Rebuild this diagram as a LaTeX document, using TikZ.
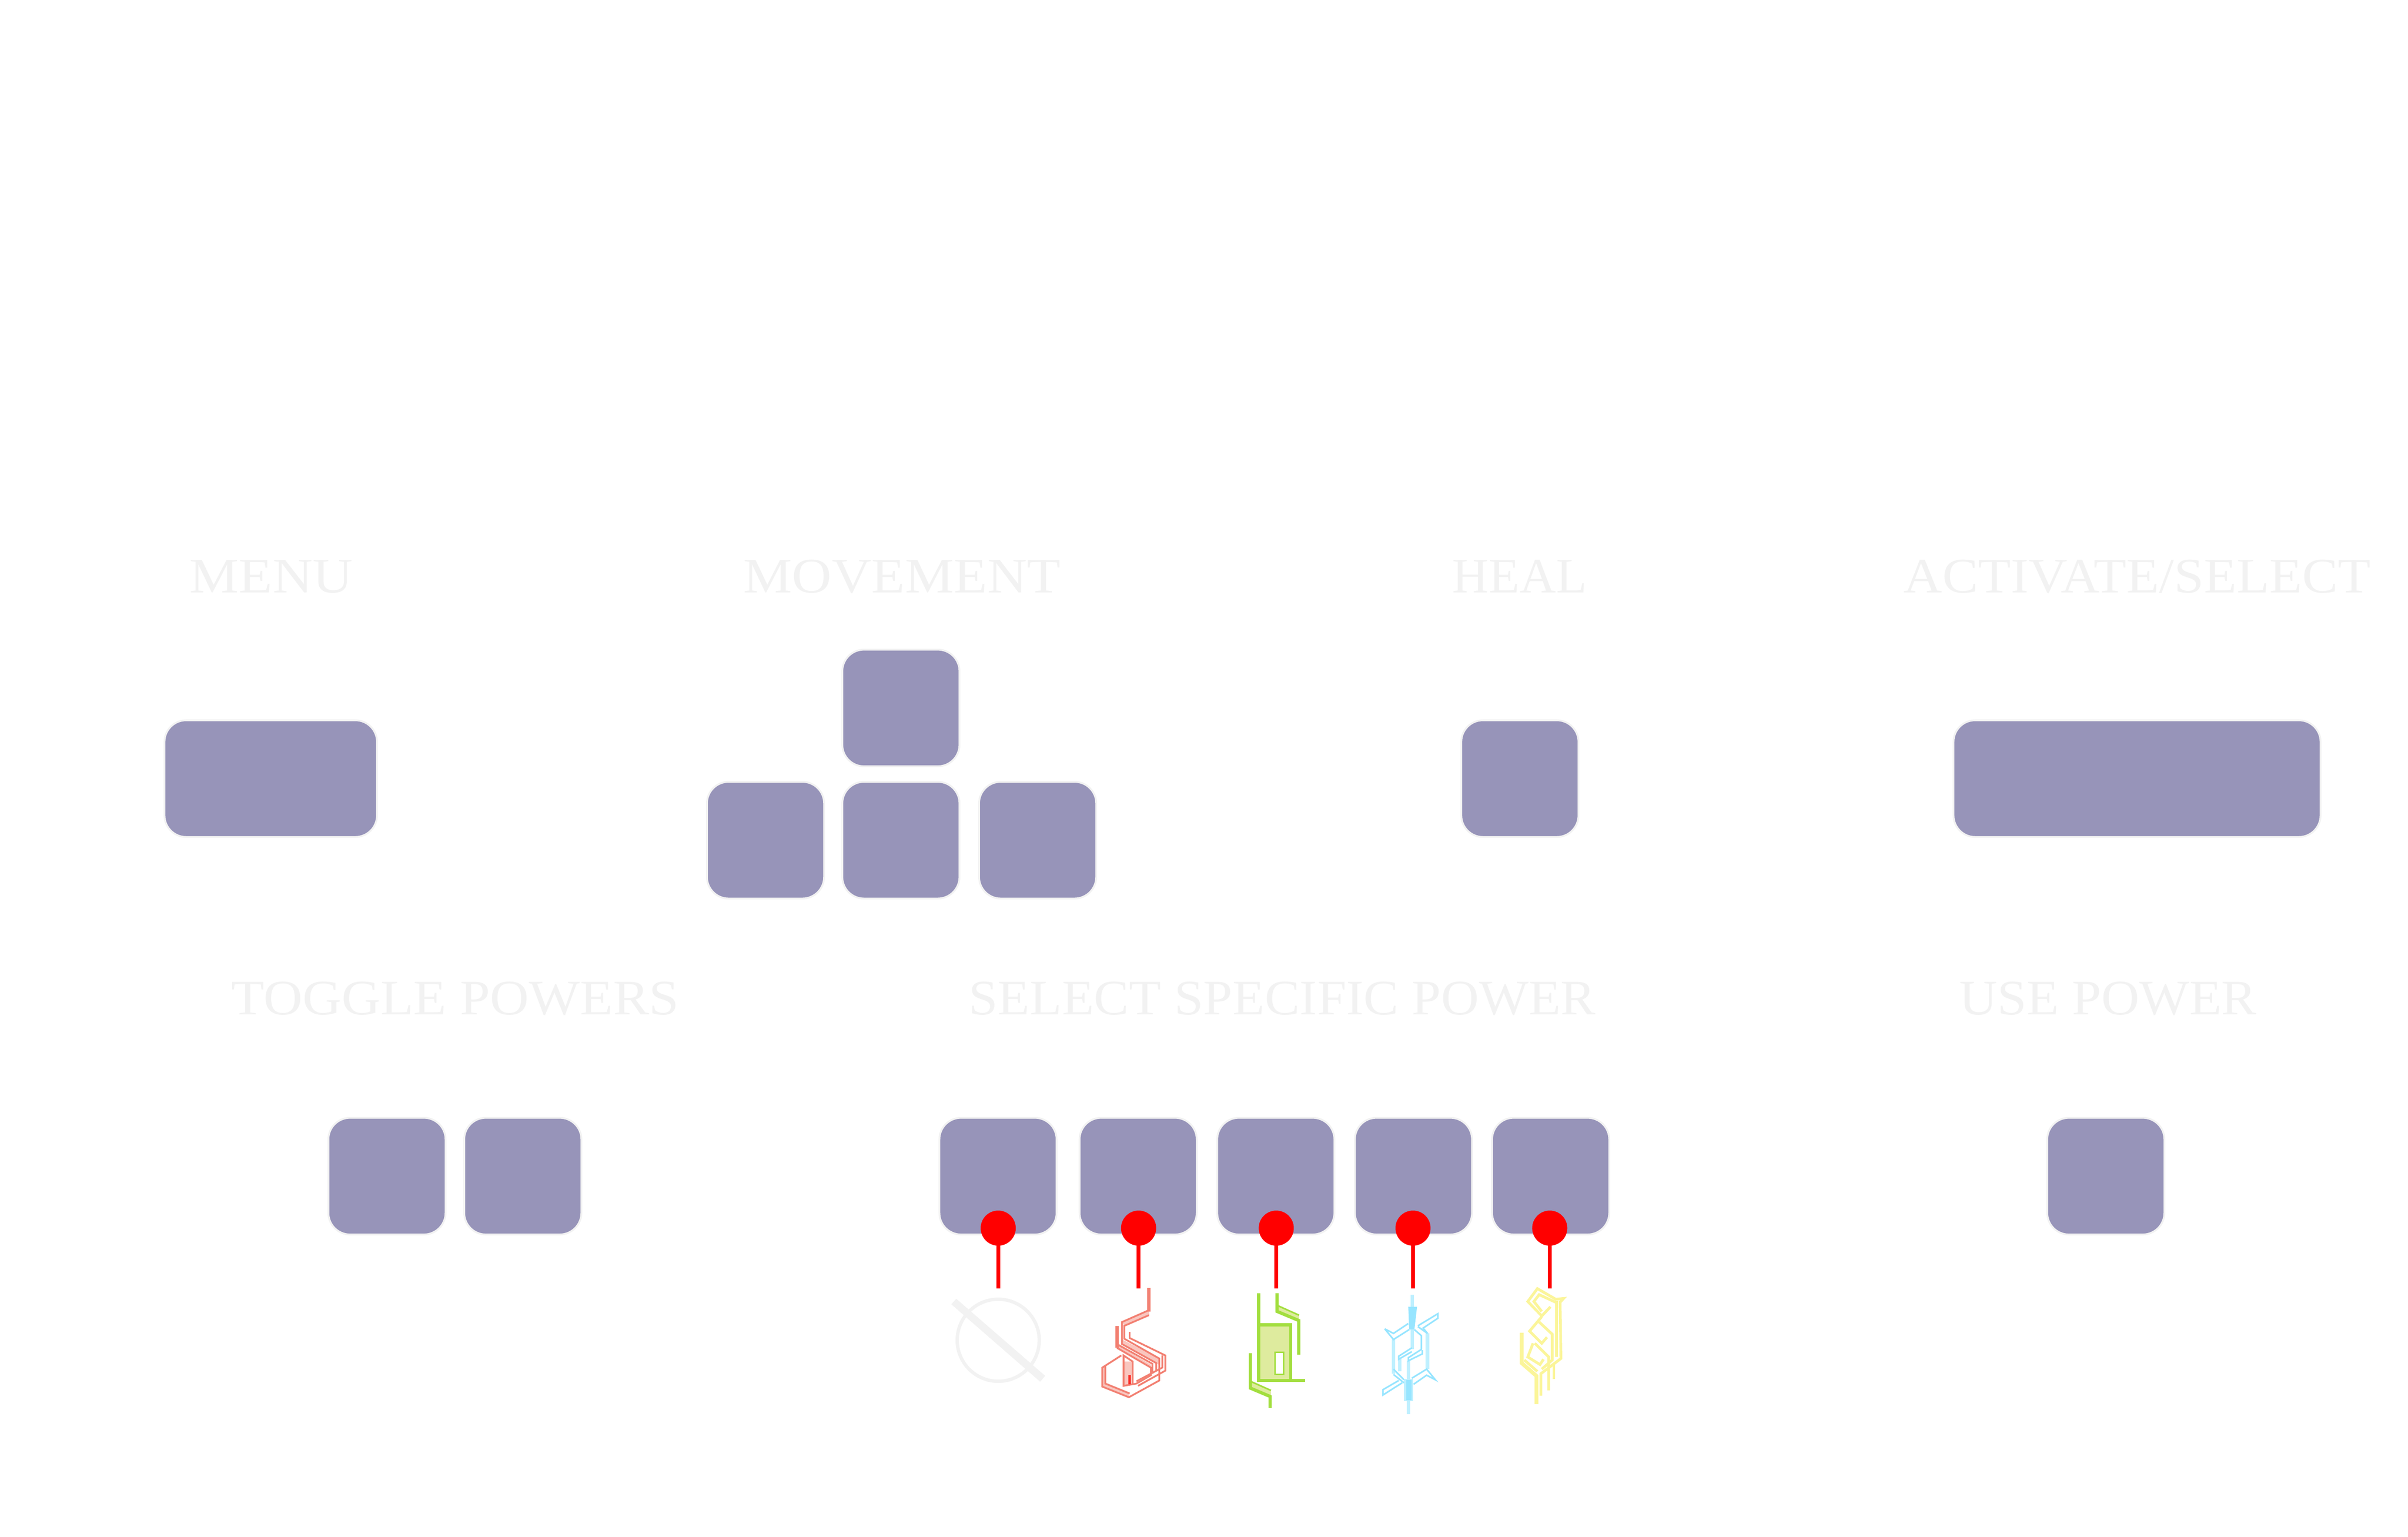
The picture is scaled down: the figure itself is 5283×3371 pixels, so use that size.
\documentclass[tikz,border=0pt]{standalone}
\usepackage{fontspec}
\setmainfont{Liberation Serif}
\definecolor{keyfill}{HTML}{9794B9}
\definecolor{keyedge}{HTML}{F2F2F2}
\definecolor{lab}{HTML}{F2F2F2}
\definecolor{grnline}{HTML}{A2DE3E}
\definecolor{grnfill}{HTML}{DEEB9E}
\definecolor{redline}{HTML}{F28072}
\definecolor{redfill}{HTML}{F9C6BF}
\definecolor{bluline}{HTML}{97E5FF}
\definecolor{blupale}{HTML}{BFF0FF}
\definecolor{yelline}{HTML}{FBF59A}
\newdimen\pxu \pxu=0.28453pt
\tikzset{
keybox/.style={rectangle,fill=keyfill,draw=keyedge,line width=1.14pt,rounded corners=13.5pt,inner sep=0pt,minimum height=72.8pt},
sqkey/.style={keybox,minimum width=73.1pt},
pindot/.style={circle,fill=red,draw=none,inner sep=0pt,minimum size=21.9pt},
pinline/.style={draw=red,line width=2.3pt},
lbl/.style={anchor=base,inner sep=0pt,text=lab},
grn/.style={draw=grnline,line width=2pt,line join=miter},
redl/.style={draw=redline,line width=1.1pt},
blul/.style={draw=bluline,line width=1pt},
blut/.style={draw=blupale,line width=2.2pt},
yell/.style={draw=yelline,line width=1.7pt}}
\newcommand{\lbltext}[4]{\node[lbl] (#1) at (#2) {\resizebox{#3\pxu}{\height}{\fontsize{31}{31}\selectfont #4}};}
\begin{document}
\begin{tikzpicture}[x=0.01cm,y=-0.01cm]
\useasboundingbox (0,0) rectangle (5283,3371);
% labels
\lbltext{lmenu}{595,1300}{358}{MENU}
\lbltext{lmove}{1979,1300}{696}{MOVEMENT}
\lbltext{lheal}{3334,1300}{295}{HEAL}
\lbltext{lact}{4689,1300}{1024}{ACTIVATE/SELECT}
\lbltext{ltog}{999,2226}{982}{TOGGLE POWERS}
\lbltext{lsel}{2813,2226}{1375}{SELECT SPECIFIC POWER}
\lbltext{luse}{4625,2226}{652}{USE POWER}
% keys
\node[keybox,minimum width=132.6pt] (kmenu) at (594,1708) {};
\node[sqkey] (mup) at (1976.5,1553) {};
\node[sqkey] (mleft) at (1679.5,1843) {};
\node[sqkey] (mdown) at (1976.5,1843) {};
\node[sqkey] (mright) at (2276.5,1843) {};
\node[sqkey] (kheal) at (3334.5,1708) {};
\node[keybox,minimum width=229pt] (kact) at (4688.5,1708) {};
\node[sqkey] (tog1) at (849,2580) {};
\node[sqkey] (tog2) at (1147,2580) {};
\node[sqkey] (s1) at (2189.5,2580) {};
\node[sqkey] (s2) at (2497,2580) {};
\node[sqkey] (s3) at (2799,2580) {};
\node[sqkey] (s4) at (3101,2580) {};
\node[sqkey] (s5) at (3402,2580) {};
\node[sqkey] (kuse) at (4620,2580) {};
% pins
\foreach \n/\x in {1/2190,2/2498,3/2800,4/3100,5/3400}{
  \node[pindot] (p\n) at (\x,2694) {};
  \coordinate (e\n) at (\x,2826);
  \draw[pinline] (p\n.center) -- (e\n);
}
% no-power icon
\draw[keyedge,line width=2.1pt] (2190,2940) circle [radius=90];
\fill[keyedge] (2087,2861) -- (2098,2849) -- (2293,3018) -- (2282,3031) -- cycle;
% red icon
\begin{scope}[shift={(2350,2780)},scale=1/3]
\fill[redfill] (512,285)--(335,360)--(350,385)--(515,315)--cycle;
\fill[redfill] (335,475)--(580,600)--(575,640)--(345,510)--cycle;
\fill[redfill] (300,510)--(525,640)--(525,665)--(300,535)--cycle;
\fill[redfill] (345,620)--(405,620)--(405,770)--(345,780)--cycle;
\fill[redfill] (205,660)--(225,650)--(225,765)--(385,830)--(380,855)--(205,785)--cycle;
\draw[redline,line width=2.2pt] (512,135)--(512,290);
\draw[redl] (512,315)--(350,385)--(350,470)--(580,600)--(580,745)--(380,855)--(205,785)--(205,660)--(330,580);
\draw[redl] (505,285)--(335,360)--(335,505)--(560,630)--(560,680);
\draw[redl] (225,650)--(225,765)--(385,830);
\draw[redline,line width=2pt] (302,385)--(302,530);
\draw[redl] (302,530)--(525,660)--(525,710)--(430,765)--(345,780)--(345,580)--(405,620)--(405,770);
\draw[redl] (310,510)--(535,635)--(535,700);
\draw[redl] (385,425)--(385,465)--(620,580)--(620,680)--(440,780);
\draw[redl] (600,580)--(600,660)--(430,750);
\draw[red!70!redline,line width=1.6pt] (385,710)--(385,770);
\end{scope}
% green icon
\begin{scope}[shift={(2650,2780)},scale=1/3]
\fill[grnfill] (335,378) rectangle (545,745);
\fill[grnfill] (455,250)--(600,315)--(600,355)--(455,290)--cycle;
\fill[grnfill] (280,750)--(415,810)--(415,855)--(280,795)--cycle;
\draw[grn] (335,170)--(335,745)--(640,745);
\draw[grn] (335,378)--(545,378)--(545,745);
\draw[grn] (455,170)--(455,290)--(598,350)--(598,575);
\draw[grn,line width=1pt] (455,250)--(600,315);
\draw[grn] (280,565)--(280,795)--(410,850)--(410,925);
\draw[grn,line width=1pt] (280,750)--(415,810);
\draw[grn,line width=1pt,fill=white] (443,560) rectangle (500,705);
\end{scope}
% blue icon
\begin{scope}[shift={(2950,2650)},xscale=1/2.613,yscale=1/3]
\fill[bluline] (365,650)--(415,650)--(400,800)--(370,800)--cycle;
\fill[blupale] (340,1125) rectangle (392,1270);
\fill[bluline] (352,1130) rectangle (385,1265);
\draw[blut] (388,570)--(388,650);
\draw[blut] (366,1270)--(366,1355);
\draw[blut] (388,800)--(388,930);
\draw[blut] (280,865)--(280,1090);
\draw[blut] (475,825)--(475,1060);
\draw[blut] (316,985)--(316,1075);
\draw[blut] (366,1005)--(366,1125);
\draw[blul] (365,760)--(280,825)--(230,795);
\draw[blul] (370,800)--(280,865)--(230,795);
\draw[blul] (280,1060)--(340,1130);
\draw[blul] (280,1095)--(340,1150);
\draw[blul] (310,1135)--(220,1195)--(220,1230)--(330,1150);
\draw[blul] (385,1120)--(470,1060)--(520,1130)--(470,1100)--(395,1160);
\draw[blul] (420,775)--(535,695)--(535,725)--(450,790)--(475,825);
\draw[blul] (400,800)--(440,840)--(440,930)--(365,985)--(365,1005)--(445,960)--(445,935);
\draw[blul] (420,780)--(475,825);
\draw[blul] (385,920)--(310,975)--(310,995)--(385,945);
\end{scope}
% yellow icon
\begin{scope}[shift={(2950,2650)},xscale=1/2.613,yscale=1/3]
\draw[yell] (1180,650)--(1130,710)--(1050,615)--(1105,530)--(1210,600)--(1255,595)--(1235,620);
\draw[yell] (1130,680)--(1085,615)--(1115,570)--(1210,620);
\draw[yell] (1215,610)--(1215,980);
\draw[yell] (1235,610)--(1240,990)--(1125,1090)--(1125,1235);
\draw[yell] (1130,715)--(1060,810)--(1130,890)--(1160,850);
\draw[yell] (1115,750)--(1190,830)--(1190,1000)--(1130,1060);
\draw[yell] (1080,890)--(1050,980)--(1120,1030)--(1140,995);
\draw[yell] (1090,890)--(1170,980)--(1170,1200);
\draw[yell,line width=2.4pt] (1015,820)--(1015,1020)--(1100,1105)--(1100,1290);
\draw[yell] (1030,1000)--(1105,1075);
\draw[yell] (1200,1020)--(1200,1125);
\end{scope}
\end{tikzpicture}
\end{document}
